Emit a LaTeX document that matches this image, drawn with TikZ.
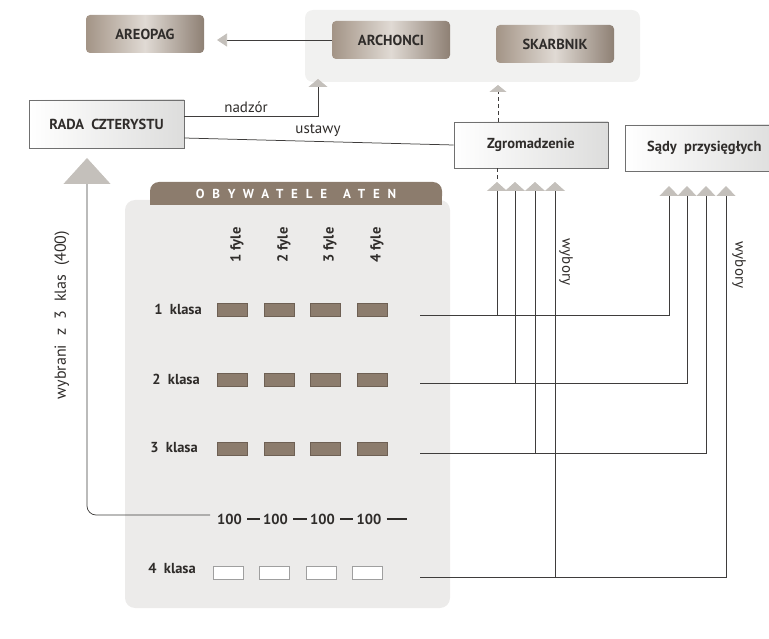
\documentclass[tikz,border=0pt]{standalone}
\usepackage{fontspec}
\setmainfont{PT Sans}
\newfontfamily\spacedfont[LetterSpace=60]{PT Sans}
\usetikzlibrary{arrows.meta,calc}
\definecolor{ink}{HTML}{2F2C2A}
\definecolor{linec}{HTML}{3F3D3C}
\definecolor{tipc}{HTML}{C4C0BB}
\definecolor{panelc}{HTML}{ECEBEA}
\definecolor{toppanel}{HTML}{F1F1F0}
\definecolor{brownc}{HTML}{8C7C6D}
\definecolor{brownd}{HTML}{6E6054}
\definecolor{boxl}{HTML}{A39486}
\definecolor{boxm}{HTML}{E0DAD4}
\definecolor{boxr}{HTML}{8E8074}
\definecolor{wboxf}{HTML}{F0F0EF}
\definecolor{wboxd}{HTML}{707070}
\begin{document}
\begin{tikzpicture}[x=1pt,y=-1pt,
  conn/.style={draw=linec, line width=0.75pt},
  ztip/.style={-{Triangle[width=20pt,length=9pt,color=tipc]}},
  stip/.style={-{Triangle[width=19pt,length=10pt,color=tipc]}},
  topbox/.style={rounded corners=4pt, left color=boxl, right color=boxr, middle color=boxm,
    minimum width=118pt, minimum height=38pt, inner sep=0pt,
    font=\bfseries\fontsize{14.5}{16}\selectfont, text=ink},
  wbox/.style={draw=wboxd, line width=0.6pt, left color=white, right color=wboxf!92!black,
    inner sep=0pt, font=\bfseries\fontsize{14.5}{16}\selectfont, text=ink},
  cbox/.style={fill=brownc, draw=brownd, line width=0.5pt, minimum width=30pt, minimum height=13pt, inner sep=0pt},
  ebox/.style={fill=white, draw=gray!75, line width=0.6pt, minimum width=30pt, minimum height=13pt, inner sep=0pt},
  lbl/.style={font=\bfseries\fontsize{14.5}{16}\selectfont, text=ink, inner sep=0pt},
  rlbl/.style={font=\fontsize{15}{17}\selectfont, text=ink, inner sep=0pt}
]
\useasboundingbox (0,0) rectangle (769,639);
% panels
\fill[toppanel, rounded corners=8pt] (305,10) rectangle (640,82);
\fill[panelc, rounded corners=10pt] (125,200) rectangle (450,608);
\fill[brownc, rounded corners=9pt] (150,182) rectangle (442,205);
\fill[brownc] (150,195) rectangle (442,205);
\node[font=\fontsize{13}{15}\selectfont, text=white] (hdr) at (296,194) {\spacedfont\bfseries OBYWATELE\hspace{5pt} ATEN};

% top boxes
\node[topbox] (areo) at (145,34) {AREOPAG};
\node[topbox] (arch) at (391,40) {ARCHONCI};
\node[topbox] (skar) at (555,44) {SKARBNIK};

% white boxes
\node[wbox, minimum width=155pt, minimum height=48pt] (rada) at (106.5,124) {RADA\ \ CZTERYSTU};
\node[wbox, minimum width=154pt, minimum height=46pt] (zgr) at (531,145) {Zgromadzenie};
\node[wbox, minimum width=158pt, minimum height=46pt, anchor=west] (sady) at (625,148) {Sądy\ \ przysięgłych};

% archonci -> areopag
\coordinate (areotip) at (217,40);
\draw[conn, -{Triangle[width=13pt,length=10pt,color=tipc]}] (arch.west) -- (areotip);

% nadzor
\coordinate (nadtip) at (318,79);
\coordinate (nadrow) at (0,116);
\draw[conn, -{Triangle[width=19pt,length=8pt,color=tipc]}] (rada.east |- nadrow) -| (nadtip);
\node[rlbl] (nadz) at (246,107) {nadzór};

% ustawy
\draw[conn] ($(rada.east)+(0,14)$) -- (zgr.west);
\node[rlbl] (ust) at (318,130) {ustawy};

% zgromadzenie -> skarbnik (dashed)
\coordinate (sktip) at (498,85);
\draw[conn, dash pattern=on 4pt off 3pt, -{Triangle[width=17pt,length=7pt,color=tipc]}] (zgr.north -| sktip) -- (sktip);

% classes -> zgromadzenie / sady
\foreach \i/\zx/\sx/\ry in {1/497/669/315, 2/515/687/383, 3/535/706/453, 4/555/726/577} {
  \coordinate (zt\i) at (\zx,182);
  \coordinate (st\i) at (\sx,186);
  \coordinate (cl\i) at (420,\ry);
}
\foreach \i in {1,2,3,4} {
  \draw[conn, stip] (cl\i) -| (st\i);
  \draw[conn, ztip] (zt\i |- cl\i) -- (zt\i);
}
\draw[conn, dash pattern=on 4pt off 3pt] (zgr.south -| zt1) -- (zt1);

\node[rlbl, rotate=-90] (wyb1) at (566,262) {wybory};
\node[rlbl, rotate=-90] (wyb2) at (739,265) {wybory};

% fyle labels
\foreach \c/\x in {1/237,2/284,3/330,4/377}
  \node[lbl, rotate=90] (f\c) at (\x,245) {\c\ fyle};

% class boxes
\foreach \r/\y in {1/310,2/380,3/449}
  \foreach \c/\x in {1/232,2/279,3/325,4/372}
    \node[cbox] (b\r\c) at (\x,\y) {};
\foreach \c/\x in {1/228,2/274,3/321,4/367}
  \node[ebox] (b4\c) at (\x,573) {};

% class labels
\node[lbl, anchor=east] (k1) at (202,309) {1\ \ klasa};
\node[lbl, anchor=east] (k2) at (200,379) {2\ \ klasa};
\node[lbl, anchor=east] (k3) at (198,448) {3\ \ klasa};
\node[lbl, anchor=east] (k4) at (196,568) {4\ \ klasa};

% 100 row
\node[lbl] (h1) at (229.5,519) {100};
\node[lbl] (h2) at (275.5,519) {100};
\node[lbl] (h3) at (322.5,519) {100};
\node[lbl] (h4) at (369,519) {100};
\coordinate (hend) at (407,519);
\draw[draw=ink, line width=1.4pt] ([xshift=5pt]h1.east) -- ([xshift=-3pt]h2.west);
\draw[draw=ink, line width=1.4pt] ([xshift=5pt]h2.east) -- ([xshift=-3pt]h3.west);
\draw[draw=ink, line width=1.4pt] ([xshift=5pt]h3.east) -- ([xshift=-3pt]h4.west);
\draw[draw=ink, line width=1.4pt] ([xshift=5pt]h4.east) -- (hend);

% wybrani -> rada
\coordinate (radatip) at (87,158);
\coordinate (hl) at (210,515);
\draw[conn, rounded corners=9pt, -{Triangle[width=47pt,length=26pt,color=tipc]}] (hl) -| (radatip);
\node[rlbl, rotate=90, font=\fontsize{16}{18}\selectfont] (wybr) at (62,315) {wybrani\hspace{9pt}z\hspace{9pt}3\hspace{9pt}klas\hspace{9pt}(400)};
\end{tikzpicture}
\end{document}
